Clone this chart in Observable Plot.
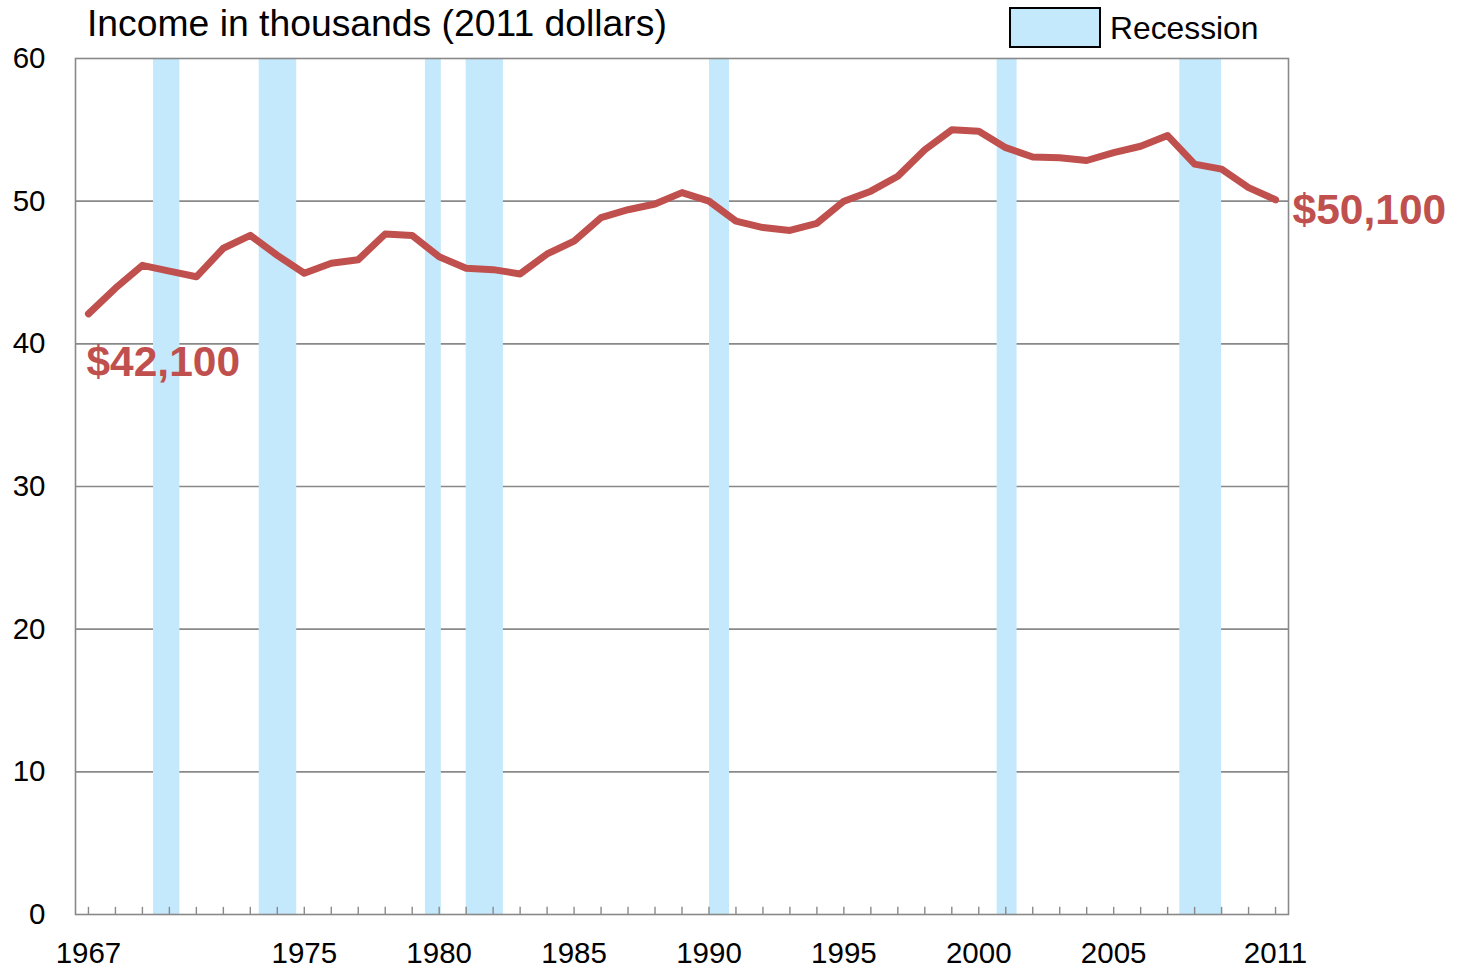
<!DOCTYPE html>
<html>
<head>
<meta charset="utf-8">
<script src="https://cdn.jsdelivr.net/npm/d3@7"></script>
<script src="https://cdn.jsdelivr.net/npm/@observablehq/plot@0.6"></script>
<style>
  html, body { margin: 0; padding: 0; background: #fff; }
  #chart svg { display: block; }
</style>
</head>
<body>
<div id="chart"></div>
<script>
// ---- Data ----
const years = [1967, 1968, 1969, 1970, 1971, 1972, 1973, 1974, 1975, 1976,
               1977, 1978, 1979, 1980, 1981, 1982, 1983, 1984, 1985, 1986,
               1987, 1988, 1989, 1990, 1991, 1992, 1993, 1994, 1995, 1996,
               1997, 1998, 1999, 2000, 2001, 2002, 2003, 2004, 2005, 2006,
               2007, 2008, 2009, 2010, 2011];
const incomes = [42.1, 43.9, 45.5, 45.1, 44.7, 46.7, 47.6, 46.2, 44.95, 45.65,
                 45.9, 47.7, 47.6, 46.1, 45.3, 45.2, 44.9, 46.3, 47.2, 48.85,
                 49.4, 49.8, 50.6, 50.0, 48.6, 48.15, 47.95, 48.45, 50.0, 50.7,
                 51.75, 53.6, 55.0, 54.9, 53.75, 53.1, 53.05, 52.85, 53.4, 53.85,
                 54.6, 52.6, 52.25, 50.95, 50.1];
// Recession spans, in the chart's year units
const recessionStart = [1969.41, 1973.33, 1979.49, 1981.0, 1990.02, 2000.68, 2007.45];
const recessionEnd   = [1970.39, 1974.72, 1980.08, 1982.38, 1990.76, 2001.42, 2009.0];
const xTickYears = [1967, 1975, 1980, 1985, 1990, 1995, 2000, 2005, 2011];
const yTicks = [0, 10, 20, 30, 40, 50, 60];
const endLabels = ["$42,100", "$50,100"];
const titleText = "Income in thousands (2011 dollars)";
const legendText = "Recession";

// ---- Styles ----
const FONT = "'Liberation Sans', Arial, Helvetica, sans-serif";
const LINE_COLOR = "#C0504D";
const BAND_COLOR = "#C5E9FC";
const GRID_COLOR = "#898989";

const series = years.map((y, i) => ({year: y, value: incomes[i]}));
const recessions = recessionStart.map((s, i) => ({start: s, end: recessionEnd[i]}));
const labelData = [
  {year: years[0], value: incomes[0], text: endLabels[0], which: "start"},
  {year: years[years.length - 1], value: incomes[incomes.length - 1], text: endLabels[1], which: "end"}
];

const chart = Plot.plot({
  width: 1458,
  height: 969,
  marginLeft: 75,
  marginRight: 170,
  marginTop: 58,
  marginBottom: 55,
  style: {fontFamily: FONT, fontSize: "29.5px", color: "#000", background: "#fff", overflow: "visible"},
  x: {domain: [1966.52, 2011.48]},
  y: {domain: [0, 60]},
  marks: [
    Plot.ruleY(yTicks.filter(d => d > 0 && d < 60), {stroke: GRID_COLOR, strokeWidth: 1.6}),
    Plot.rect(recessions, {x1: "start", x2: "end", fill: BAND_COLOR}),
    Plot.frame({stroke: GRID_COLOR, strokeWidth: 1.6}),
    Plot.ruleX(years, {x: d => d, y1: 0, y2: 0.5, stroke: GRID_COLOR, strokeWidth: 1.4}),
    Plot.axisY({ticks: yTicks, tickSize: 0, tickPadding: 30, label: null, fontSize: 29.5, tickFormat: d => String(d)}),
    Plot.axisX({ticks: xTickYears, tickSize: 0, tickPadding: 28, label: null, fontSize: 29.5, tickFormat: d => String(d)}),
    Plot.line(series, {x: "year", y: "value", stroke: LINE_COLOR, strokeWidth: 7,
      strokeLinejoin: "round", strokeLinecap: "round"}),
    Plot.text(labelData.filter(d => d.which === "start"), {x: "year", y: "value", text: "text",
      textAnchor: "start", dx: -2, dy: 48.5, fontSize: 42.5, fontWeight: "bold", fill: LINE_COLOR}),
    Plot.text(labelData.filter(d => d.which === "end"), {x: "year", y: "value", text: "text",
      textAnchor: "start", dx: 17, dy: 10.5, fontSize: 42.5, fontWeight: "bold", fill: LINE_COLOR})
  ]
});

const svg = d3.select(chart);
svg.append("text")
  .attr("x", 87).attr("y", 36)
  .attr("text-anchor", "start")
  .attr("font-family", FONT).attr("font-size", 37.3).attr("fill", "#000")
  .text(titleText);
svg.append("rect")
  .attr("x", 1010).attr("y", 8).attr("width", 90).attr("height", 39)
  .attr("fill", BAND_COLOR).attr("stroke", "#000").attr("stroke-width", 2);
svg.append("text")
  .attr("x", 1110).attr("y", 39)
  .attr("text-anchor", "start")
  .attr("font-family", FONT).attr("font-size", 31.8).attr("fill", "#000")
  .text(legendText);

document.getElementById("chart").appendChild(chart);
</script>
</body>
</html>
